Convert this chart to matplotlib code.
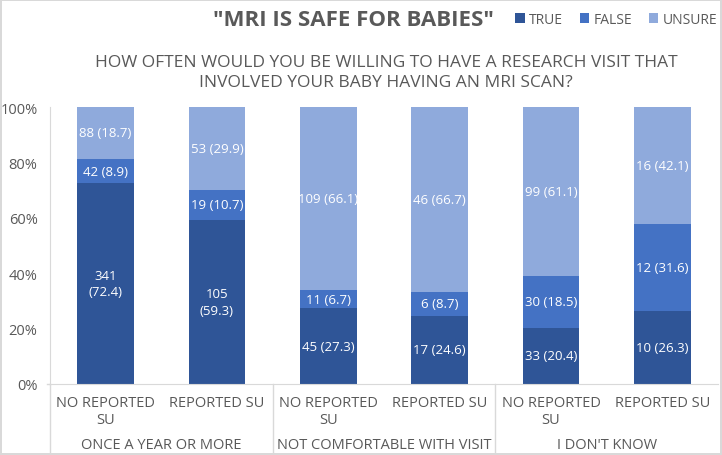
import matplotlib.pyplot as plt
import numpy as np

plt.rcParams['font.family'] = ['Open Sans', 'DejaVu Sans']

# data
groups = ["ONCE A YEAR OR MORE", "NOT COMFORTABLE WITH VISIT", "I DON'T KNOW"]
categories = ["NO REPORTED\nSU", "REPORTED SU"] * 3
true_n = [341, 105, 45, 17, 33, 10]
false_n = [42, 19, 11, 6, 30, 12]
unsure_n = [88, 53, 109, 46, 99, 16]
true_pct = [72.4, 59.3, 27.3, 24.6, 20.4, 26.3]
false_pct = [8.9, 10.7, 6.7, 8.7, 18.5, 31.6]
unsure_pct = [18.7, 29.9, 66.1, 66.7, 61.1, 42.1]

series = ["TRUE", "FALSE", "UNSURE"]
colors = ["#2F5597", "#4472C4", "#8FAADC"]
wrapped = [(0, 0), (0, 1)]  # labels that Excel wrapped onto two lines

counts = np.array([true_n, false_n, unsure_n], dtype=float)
pcts = [true_pct, false_pct, unsure_pct]
shares = counts / counts.sum(axis=0)

fig = plt.figure(figsize=(7.22, 4.56), dpi=100)
fig.patch.set_edgecolor("#D9D9D9")
fig.patch.set_linewidth(1.5)
ax = fig.add_axes([50 / 722, 1 - 385 / 456, 668 / 722, 277 / 456])

x = np.arange(len(categories))
bottom = np.zeros(len(categories))
for s in range(3):
    bars = ax.bar(x, shares[s], 0.51, bottom=bottom, color=colors[s], label=series[s])
    for i in range(len(x)):
        sep = "\n" if (s, i) in wrapped else " "
        txt = f"{int(counts[s, i])}{sep}({pcts[s][i]})"
        ax.text(x[i], bottom[i] + shares[s][i] / 2, txt, ha="center", va="center",
                color="white", fontsize=9.5, linespacing=1.35)
    bottom += shares[s]

ax.set_xlim(-0.5, len(x) - 0.5)
ax.set_ylim(0, 1)
ax.set_yticks(np.arange(0, 1.01, 0.2))
ax.set_yticklabels([f"{int(round(v * 100))}%" for v in np.arange(0, 1.01, 0.2)],
                   color="#595959", fontsize=10.5)
ax.tick_params(axis="y", length=0, pad=9)
ax.set_xticks([])
for sp in ["top", "right"]:
    ax.spines[sp].set_visible(False)
ax.spines["left"].set_color("#D9D9D9")
ax.spines["bottom"].set_color("#D9D9D9")

# two-level category axis
tr = ax.get_xaxis_transform()
for i, c in enumerate(categories):
    ax.text(x[i], -0.038, c, transform=tr, ha="center", va="top", fontsize=10.5,
            color="#595959", linespacing=1.25)
for g, name in enumerate(groups):
    ax.text(2 * g + 0.5, -0.217, name, transform=tr, ha="center", va="center",
            fontsize=10.5, color="#595959")
for b in [-0.5, 1.5, 3.5]:
    ax.plot([b, b], [0, -0.255], transform=tr, color="#D9D9D9", lw=1, clip_on=False)
ax.plot([-0.53, -0.5], [0, 0], transform=tr, color="#D9D9D9", lw=1, clip_on=False)

fig.text(353 / 722, 0.955, "\"MRI IS SAFE FOR BABIES\"", ha="center", va="center",
         fontsize=16, fontweight="bold", color="#595959")
fig.legend(loc="center left", bbox_to_anchor=(508 / 722, 0.955), ncol=3, frameon=False,
           fontsize=10, handlelength=0.7, handleheight=0.7, columnspacing=1.2,
           handletextpad=0.3, labelcolor="#595959", borderpad=0)
fig.text(386 / 722, 0.84, "HOW OFTEN WOULD YOU BE WILLING TO HAVE A RESEARCH VISIT THAT\n"
         "INVOLVED YOUR BABY HAVING AN MRI SCAN?", ha="center", va="center",
         fontsize=12.5, color="#595959", linespacing=1.35)

fig.savefig("out.png", dpi=100, edgecolor=fig.get_edgecolor())
